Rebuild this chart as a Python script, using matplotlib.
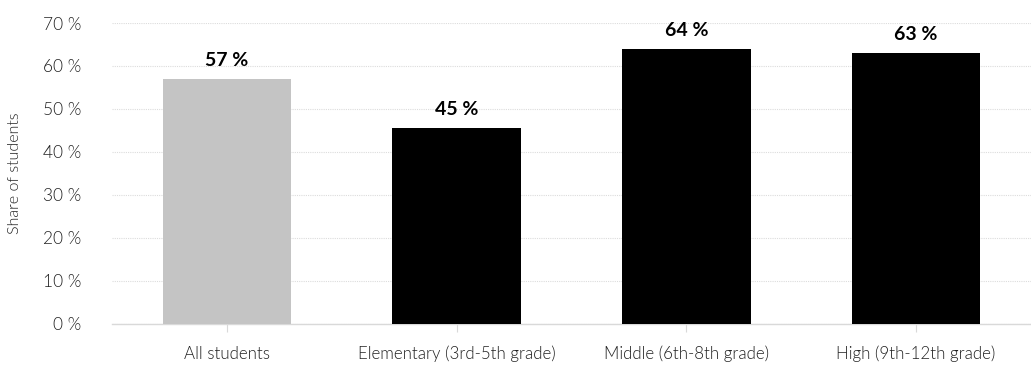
import matplotlib
matplotlib.use("Agg")
from matplotlib import pyplot as plt

categories = ["All students", "Elementary (3rd-5th grade)", "Middle (6th-8th grade)", "High (9th-12th grade)"]
shares = [57, 45.5, 64, 63]
value_labels = ["57 %", "45 %", "64 %", "63 %"]
bar_colors = ["#c4c4c4", "#000000", "#000000", "#000000"]
yticks = [0, 10, 20, 30, 40, 50, 60, 70]

plt.rcParams['font.family'] = ['Lato', 'DejaVu Sans']

fig = plt.figure(figsize=(10.31, 3.67), dpi=100)
ax = fig.add_axes([112 / 1031, 1 - 323.5 / 367, (1031 - 112) / 1031, 300.5 / 367])

x = list(range(len(categories)))
bars = ax.bar(x, shares, width=0.56, color=bar_colors, zorder=3)

for xi, v, lab in zip(x, shares, value_labels):
    ax.annotate(lab, (xi, v), xytext=(0, 7), textcoords="offset points",
                ha="center", va="bottom", fontsize=14, fontweight="bold", color="#000000")

ax.set_xlim(-0.5, 3.5)
ax.set_ylim(0, 70)
ax.set_yticks(yticks)
ax.set_yticklabels([f"{t} %" for t in yticks], fontweight=300)
ax.set_xticks(x)
ax.set_xticklabels(categories, fontweight=300)

ax.grid(axis="y", color="#dcdcdc", linestyle=(0, (1, 1)), linewidth=0.8, zorder=0)
for s in ["top", "right", "left"]:
    ax.spines[s].set_visible(False)
ax.spines["bottom"].set_color("#d9d9d9")
ax.spines["bottom"].set_linewidth(1)

ax.tick_params(axis="y", length=0, pad=22, labelsize=12.5, labelcolor="#222222")
ax.tick_params(axis="x", length=6, color="#d9d9d9", pad=10, labelsize=12.2, labelcolor="#222222")

ax.set_ylabel("Share of students", fontsize=11.5, color="#222222", labelpad=15, fontweight=300)

fig.savefig("out.png", dpi=100)
